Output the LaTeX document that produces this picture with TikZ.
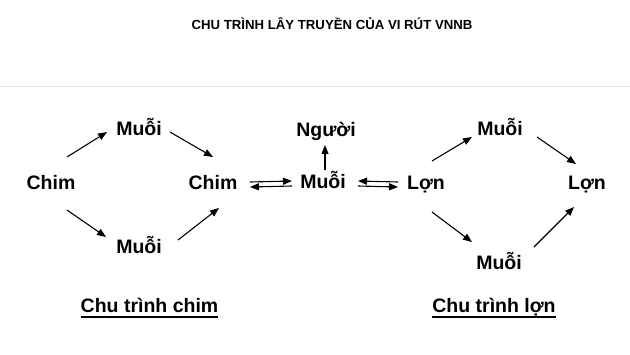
\documentclass[tikz,border=0pt]{standalone}
\usepackage{fontspec}
\setmainfont{Liberation Sans}
\usetikzlibrary{arrows.meta}

\tikzset{
  lbl/.style={font=\bfseries\fontsize{19.5}{22}\selectfont, inner sep=0pt,
    text height=14pt, text depth=0pt},
  arr/.style={-{Triangle[length=9pt,width=7pt]}, line width=1.1pt},
  uline/.style={line width=1.6pt}
}

\begin{document}
\begin{tikzpicture}[x=1pt,y=-1pt]
\useasboundingbox (0,0) rectangle (630,354);
\draw[black!10, line width=1pt] (0,86) -- (630,86);

% title
\node[font=\bfseries\fontsize{13.2}{16}\selectfont, inner sep=0pt] (title) at (332,24) {CHU TRÌNH LÂY TRUYỀN CỦA VI RÚT VNNB};

% chu trinh chim
\node[lbl] (chimA) at (51,182) {Chim};
\node[lbl] (muoiA) at (139,128) {Muỗi};
\node[lbl] (muoiB) at (139,246) {Muỗi};
\node[lbl] (chimB) at (213,182) {Chim};

% muoi - nguoi
\node[lbl] (muoiC) at (323,181) {Muỗi};
\node[lbl] (nguoi) at (326,129) {Người};

% chu trinh lon
\node[lbl] (lonA) at (426,182) {Lợn};
\node[lbl] (muoiD) at (500,128) {Muỗi};
\node[lbl] (muoiE) at (499,262) {Muỗi};
\node[lbl] (lonB) at (587,182) {Lợn};

\draw[arr] ([shift={(16,-25)}]chimA.center) -- ([shift={(-32,4)}]muoiA.center);
\draw[arr] ([shift={(31,4)}]muoiA.center) -- ([shift={(0,-25)}]chimB.center);
\draw[arr] ([shift={(16,28)}]chimA.center) -- ([shift={(-33,-9)}]muoiB.center);
\draw[arr] ([shift={(39,-6)}]muoiB.center) -- ([shift={(6,26)}]chimB.center);

\draw[arr] ([shift={(37,0)}]chimB.center) -- ([shift={(-31,0)}]muoiC.center);
\draw[arr] ([shift={(-31,5)}]muoiC.center) -- ([shift={(37,5)}]chimB.center);
\draw[arr] ([shift={(2,-11)}]muoiC.center) -- ([shift={(-1,16)}]nguoi.center);
\draw[arr] ([shift={(-28,0)}]lonA.center) -- ([shift={(35,0)}]muoiC.center);
\draw[arr] ([shift={(35,5)}]muoiC.center) -- ([shift={(-28,5)}]lonA.center);

\draw[arr] ([shift={(6,-21)}]lonA.center) -- ([shift={(-28,9)}]muoiD.center);
\draw[arr] ([shift={(37,9)}]muoiD.center) -- ([shift={(-11,-18)}]lonB.center);
\draw[arr] ([shift={(6,30)}]lonA.center) -- ([shift={(-27,-20)}]muoiE.center);
\draw[arr] ([shift={(35,-15)}]muoiE.center) -- ([shift={(-13,25)}]lonB.center);

% captions
\node[lbl, anchor=south] (capChim) at (149.5,313) {Chu trình chim};
\node[lbl, anchor=south] (capLon) at (494,313) {Chu trình lợn};
\draw[uline] ([yshift=-4pt]capChim.south west) -- ([yshift=-4pt]capChim.south east);
\draw[uline] ([yshift=-4pt]capLon.south west) -- ([yshift=-4pt]capLon.south east);
\end{tikzpicture}
\end{document}
